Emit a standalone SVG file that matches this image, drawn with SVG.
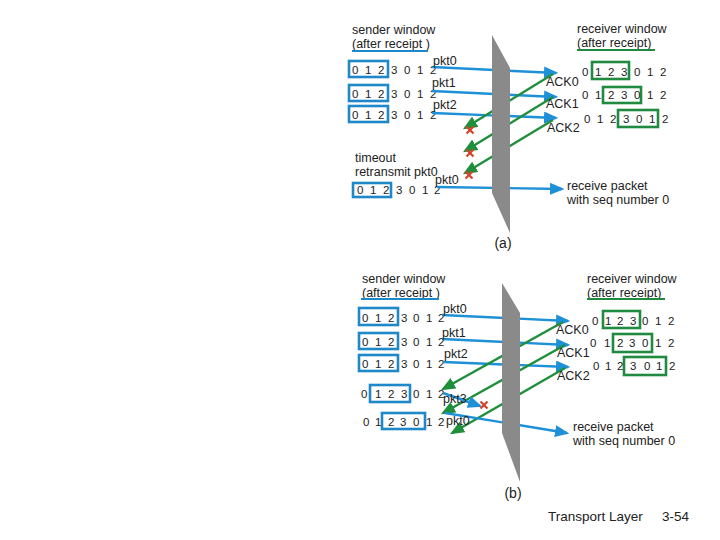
<svg xmlns="http://www.w3.org/2000/svg" width="720" height="540" viewBox="0 0 720 540">
<style>
text{font-family:"Liberation Sans",Arial,sans-serif;fill:#222}
.t{font-size:12.5px}
.d{font-size:11.5px}
.l{font-size:12.5px}
.c{font-size:14px}
.f{font-size:13.5px}
.bx{fill:none;stroke:#1e88c8;stroke-width:2.6}
.gx{fill:none;stroke:#1f8a40;stroke-width:2.6}
.ba{stroke:#1e90d8;stroke-width:2.4;fill:none;marker-end:url(#ab)}
.ga{stroke:#1f8f3c;stroke-width:2.4;fill:none;marker-end:url(#ag)}
.x{stroke:#d9402a;stroke-width:2.2}
.wall{fill:#8a8a8a}
</style>
<defs>
<marker id="ab" markerWidth="6" markerHeight="5" refX="5" refY="2.5" orient="auto" markerUnits="strokeWidth"><path d="M0,0 L6,2.5 L0,5 z" fill="#1e90d8"/></marker>
<marker id="ag" markerWidth="6" markerHeight="5" refX="5" refY="2.5" orient="auto" markerUnits="strokeWidth"><path d="M0,0 L6,2.5 L0,5 z" fill="#1f8f3c"/></marker>
<g id="xm"><line class="x" x1="-3.5" y1="-3.5" x2="3.5" y2="3.5"/><line class="x" x1="-3.5" y1="3.5" x2="3.5" y2="-3.5"/></g>
</defs>

<!-- ===== (a) ===== -->
<g id="a-sender">
<text class="t" x="352" y="34">sender window</text>
<text class="t" x="352" y="48">(after receipt )</text>
<line x1="352" y1="51" x2="428" y2="51" stroke="#1e88c8" stroke-width="2"/>
<rect class="bx" x="349" y="61" width="39" height="16"/>
<text class="d" x="352 365 378 391 404 417 430" y="74">0123012</text>
<rect class="bx" x="349" y="85" width="39" height="16"/>
<text class="d" x="352 365 378 391 404 417 430" y="98">0123012</text>
<rect class="bx" x="349" y="106" width="39" height="16"/>
<text class="d" x="352 365 378 391 404 417 430" y="119">0123012</text>
<text class="t" x="355" y="162">timeout</text>
<text class="t" x="355" y="176">retransmit pkt0</text>
<rect class="bx" x="353" y="183" width="38" height="14"/>
<text class="d" x="357 370 383 396 409 422 434" y="194">0123012</text>
</g>
<g id="a-receiver">
<text class="t" x="577" y="33">receiver window</text>
<text class="t" x="577" y="47">(after receipt)</text>
<line x1="577" y1="50" x2="655" y2="50" stroke="#1f8a40" stroke-width="2"/>
<rect class="gx" x="592" y="62" width="37" height="17"/>
<text class="d" x="582 595 608 621 634 647 660" y="76">0123012</text>
<rect class="gx" x="603" y="87" width="38" height="16"/>
<text class="d" x="582 595 608 621 634 647 660" y="99">0123012</text>
<rect class="gx" x="618" y="110" width="40" height="17"/>
<text class="d" x="584 597 610 623 636 649 662" y="123">0123012</text>
<text class="t" x="567" y="190">receive packet</text>
<text class="t" x="567" y="204">with seq number 0</text>
</g>
<g id="a-connectors">
<line class="ba" x1="432" y1="67" x2="556" y2="73"/>
<line class="ba" x1="432" y1="91" x2="556" y2="97"/>
<line class="ba" x1="432" y1="113" x2="556" y2="118"/>
<line class="ga" x1="553" y1="74" x2="465" y2="128"/>
<line class="ga" x1="553" y1="97" x2="465" y2="151"/>
<line class="ga" x1="553" y1="120" x2="465" y2="173"/>
<line class="ba" x1="437" y1="187" x2="562" y2="189"/>
</g>
<g id="a-labels">
<text class="l" x="433" y="65">pkt0</text>
<text class="l" x="432" y="87">pkt1</text>
<text class="l" x="433" y="109">pkt2</text>
<text class="l" x="435" y="184">pkt0</text>
<text class="l" x="546" y="86">ACK0</text>
<text class="l" x="546" y="108">ACK1</text>
<text class="l" x="547" y="132">ACK2</text>
<use href="#xm" x="470" y="130"/>
<use href="#xm" x="470" y="153"/>
<use href="#xm" x="469" y="175"/>
</g>
<g id="a-wall"><polygon class="wall" points="492,35 510,68 510,233 492,193"/></g>
<text id="a-cap" class="c" x="503" y="248" text-anchor="middle">(a)</text>

<!-- ===== (b) ===== -->
<g id="b-sender">
<text class="t" x="362" y="283">sender window</text>
<text class="t" x="362" y="297">(after receipt )</text>
<line x1="361" y1="299" x2="439" y2="299" stroke="#1e88c8" stroke-width="2"/>
<rect class="bx" x="359" y="308" width="39" height="17"/>
<text class="d" x="362 375 388 401 413 426 438" y="322">0123012</text>
<rect class="bx" x="359" y="333" width="39" height="16"/>
<text class="d" x="362 375 388 401 413 426 438" y="346">0123012</text>
<rect class="bx" x="359" y="355" width="39" height="16"/>
<text class="d" x="362 375 388 401 413 426 438" y="368">0123012</text>
<rect class="bx" x="370" y="385" width="40" height="17"/>
<text class="d" x="361 375 388 401 413 426 438" y="398">0123012</text>
<rect class="bx" x="382" y="413" width="43" height="16"/>
<text class="d" x="363 375 388 400 413 426 438" y="426">0123012</text>
</g>
<g id="b-receiver">
<text class="t" x="587" y="283">receiver window</text>
<text class="t" x="587" y="297">(after receipt)</text>
<line x1="587" y1="299" x2="665" y2="299" stroke="#1f8a40" stroke-width="2"/>
<rect class="gx" x="603" y="311" width="37" height="17"/>
<text class="d" x="592 605 617 630 642 655 668" y="325">0123012</text>
<rect class="gx" x="613" y="334" width="39" height="18"/>
<text class="d" x="590 604 617 629 642 655 668" y="347">0123012</text>
<rect class="gx" x="624" y="357" width="42" height="18"/>
<text class="d" x="593 605 617 630 644 656 669" y="370">0123012</text>
<text class="t" x="573" y="431">receive packet</text>
<text class="t" x="573" y="445">with seq number 0</text>
</g>
<g id="b-connectors">
<line class="ba" x1="442" y1="315" x2="568" y2="321"/>
<line class="ba" x1="442" y1="339" x2="568" y2="345"/>
<line class="ba" x1="443" y1="362" x2="568" y2="367"/>
<line class="ga" x1="563" y1="322" x2="443" y2="389"/>
<line class="ga" x1="565" y1="345" x2="443" y2="413"/>
<line class="ga" x1="565" y1="368" x2="452" y2="433"/>
<line class="ba" x1="443" y1="393" x2="480" y2="406"/>
<line class="ba" x1="445" y1="413" x2="567" y2="433"/>
</g>
<g id="b-labels">
<text class="l" x="443" y="313">pkt0</text>
<text class="l" x="442" y="337">pkt1</text>
<text class="l" x="444" y="358">pkt2</text>
<text class="l" x="443" y="403">pkt3</text>
<text class="l" x="446" y="425">pkt0</text>
<text class="l" x="556" y="334">ACK0</text>
<text class="l" x="557" y="357">ACK1</text>
<text class="l" x="557" y="380">ACK2</text>
<use href="#xm" x="484" y="405"/>
</g>
<g id="b-wall"><polygon class="wall" points="502,283 520,313 520,482 502,433"/></g>
<text id="b-cap" class="c" x="513" y="498" text-anchor="middle">(b)</text>

<g id="footer">
<text class="f" x="548" y="521">Transport Layer</text>
<text class="f" x="662" y="521">3-54</text>
</g>
</svg>
